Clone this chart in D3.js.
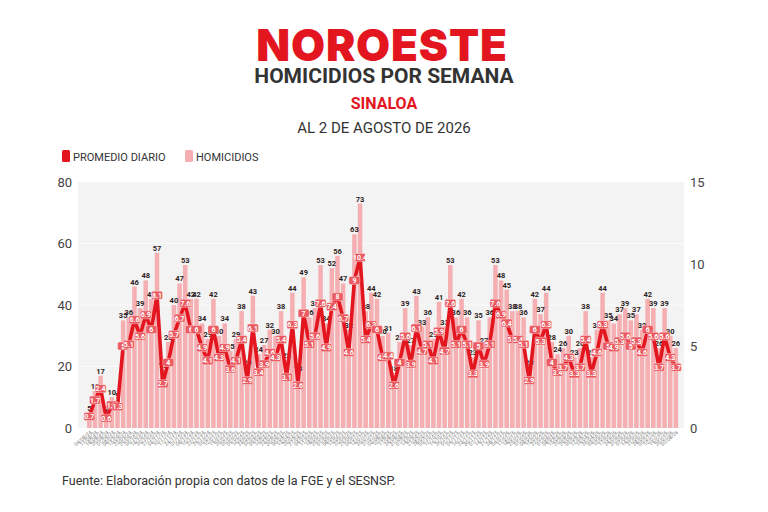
<!DOCTYPE html>
<html>
<head>
<meta charset="utf-8">
<script src="https://cdn.jsdelivr.net/npm/d3@7"></script>
<style>
  body { margin: 0; background: #fff; }
  svg { display: block; }
</style>
</head>
<body>
<svg id="chart" width="768" height="512"></svg>
<script>
// Weekly homicides in Sinaloa
const homicidios = [5, 12, 17, 4, 10, 9, 35, 36, 46, 39, 48, 42, 57, 19, 28, 40, 47, 53, 42, 42,
  34, 29, 42, 30, 34, 25, 29, 38, 20, 43, 24, 27, 32, 30, 38, 22, 44, 18, 49, 36,
  39, 53, 34, 52, 56, 47, 32, 63, 73, 38, 44, 42, 30, 31, 18, 28, 39, 27, 43, 33,
  36, 29, 41, 33, 53, 36, 42, 36, 23, 35, 27, 36, 53, 48, 45, 38, 38, 36, 20, 42,
  37, 44, 28, 24, 26, 30, 23, 26, 38, 23, 32, 44, 35, 34, 37, 39, 35, 37, 32, 42,
  39, 26, 39, 30, 26]

// Daily average per week (line labels)
const promedio = [0.7, 1.7, 2.4, 0.6, 1.4, 1.3, 5, 5.1, 6.6, 5.6, 6.9, 6, 8.1, 2.7, 4, 5.7, 6.7, 7.6, 6, 6,
  4.9, 4.1, 6, 4.3, 4.9, 3.6, 4.1, 5.4, 2.9, 6.1, 3.4, 3.9, 4.6, 4.3, 5.4, 3.1, 6.3, 2.6, 7, 5.1,
  5.6, 7.6, 4.9, 7.4, 8, 6.7, 4.6, 9, 10.4, 5.4, 6.3, 6, 4.3, 4.4, 2.6, 4, 5.6, 3.9, 6.1, 4.7,
  5.1, 4.1, 5.9, 4.7, 7.6, 5.1, 6, 5.1, 3.3, 5, 3.9, 5.1, 7.6, 6.9, 6.4, 5.4, 5.4, 5.1, 2.9, 6,
  5.3, 6.3, 4, 3.4, 3.7, 4.3, 3.3, 3.7, 5.4, 3.3, 4.6, 6.3, 5, 4.9, 5.3, 5.6, 5, 5.3, 4.6, 6,
  5.6, 3.7, 5.6, 4.3, 3.7]

// Week labels (too small to read in the original; weekly dates ending 2 Aug 2026)
const semanaInicio = new Date(2024, 7, 4)
const semanas = d3.range(homicidios.length).map(i =>
  d3.timeFormat('%d/%m/%y')(d3.timeDay.offset(semanaInicio, 7 * i)))

const ticksIzq = [0, 20, 40, 60, 80]
const ticksDer = [0, 5, 10, 15]

const rojo = '#e3151f'
const rosa = '#f5aeb1'
const svg = d3.select('#chart')

// Header
svg.append('text')
  .attr('x', 382).attr('y', 61)
  .attr('text-anchor', 'middle')
  .attr('font-family', 'Inter, sans-serif')
  .attr('font-weight', 900)
  .attr('font-size', 44)
  .attr('letter-spacing', 0.8)
  .attr('fill', rojo)
  .text('NOROESTE')

svg.append('text')
  .attr('x', 384).attr('y', 83)
  .attr('text-anchor', 'middle')
  .attr('font-family', 'Roboto, sans-serif')
  .attr('font-weight', 700)
  .attr('font-size', 21)
  .attr('fill', '#333')
  .text('HOMICIDIOS POR SEMANA')

svg.append('text')
  .attr('x', 384).attr('y', 109)
  .attr('text-anchor', 'middle')
  .attr('font-family', 'Roboto, sans-serif')
  .attr('font-weight', 700)
  .attr('font-size', 16)
  .attr('fill', rojo)
  .text('SINALOA')

svg.append('text')
  .attr('x', 384).attr('y', 133)
  .attr('text-anchor', 'middle')
  .attr('font-family', 'Roboto, sans-serif')
  .attr('font-size', 15)
  .attr('fill', '#333')
  .text('AL 2 DE AGOSTO DE 2026')

// Legend
const legend = [
  { label: 'PROMEDIO DIARIO', color: rojo, x: 62 },
  { label: 'HOMICIDIOS', color: rosa, x: 185 }
]
const lg = svg.append('g').selectAll('g').data(legend).join('g')
  .attr('transform', d => `translate(${d.x},150)`)
lg.append('rect').attr('width', 8).attr('height', 12).attr('rx', 1.5).attr('fill', d => d.color)
lg.append('text')
  .attr('x', 11).attr('y', 10.5)
  .attr('font-family', 'Roboto, sans-serif')
  .attr('font-size', 11)
  .attr('fill', '#333')
  .text(d => d.label)

// Scales
const plotTop = 182, plotBottom = 428
const x = d3.scaleBand().domain(semanas).range([86.5, 678.7]).paddingInner(0.2).paddingOuter(0.1)
const y = d3.scaleLinear().domain([0, 80]).range([plotBottom, plotTop])
const y2 = d3.scaleLinear().domain([0, 15]).range([plotBottom, plotTop])

// Plot background + grid
svg.append('rect')
  .attr('x', 78).attr('y', plotTop)
  .attr('width', 606).attr('height', plotBottom - plotTop)
  .attr('fill', '#f3f3f3')

svg.append('g').selectAll('line').data(ticksIzq.slice(1, -1)).join('line')
  .attr('x1', 78).attr('x2', 684)
  .attr('y1', d => y(d)).attr('y2', d => y(d))
  .attr('stroke', '#fbfbfb')

// Axes
const axL = svg.append('g')
  .attr('transform', 'translate(78,0)')
  .call(d3.axisLeft(y).tickValues(ticksIzq).tickSize(0).tickPadding(6))
const axR = svg.append('g')
  .attr('transform', 'translate(684,0)')
  .call(d3.axisRight(y2).tickValues(ticksDer).tickSize(0).tickPadding(6))
;[axL, axR].forEach(a => {
  a.select('.domain').remove()
  a.selectAll('text')
    .attr('font-family', 'Roboto, sans-serif')
    .attr('font-size', 13)
    .attr('fill', '#444')
})

const axB = svg.append('g')
  .attr('transform', `translate(0,${plotBottom})`)
  .call(d3.axisBottom(x).tickSize(0).tickPadding(3))
axB.select('.domain').remove()
axB.selectAll('text')
  .attr('font-family', 'Roboto, sans-serif')
  .attr('font-size', 5)
  .attr('fill', '#777')
  .attr('text-anchor', 'end')
  .attr('dx', '-0.2em').attr('dy', '0.5em')
  .attr('transform', 'rotate(-40)')

// Bars
svg.append('g').selectAll('rect').data(homicidios).join('rect')
  .attr('x', (d, i) => x(semanas[i]))
  .attr('y', d => y(d))
  .attr('width', x.bandwidth())
  .attr('height', d => plotBottom - y(d))
  .attr('fill', rosa)

// Bar labels
svg.append('g').selectAll('text').data(homicidios).join('text')
  .attr('x', (d, i) => x(semanas[i]) + x.bandwidth() / 2)
  .attr('y', d => y(d) - 2)
  .attr('text-anchor', 'middle')
  .attr('font-family', 'Roboto, sans-serif')
  .attr('font-weight', 700)
  .attr('font-size', 7.5)
  .attr('fill', '#2e2222')
  .text(d => d)

// Line
const line = d3.line()
  .x((d, i) => x(semanas[i]) + x.bandwidth() / 2)
  .y(d => y2(d))
svg.append('path')
  .datum(promedio)
  .attr('d', line)
  .attr('fill', 'none')
  .attr('stroke', rojo)
  .attr('stroke-width', 3.6)
  .attr('stroke-linejoin', 'round')

// Line labels
const pl = svg.append('g').selectAll('g').data(promedio).join('g')
  .attr('transform', (d, i) => `translate(${x(semanas[i]) + x.bandwidth() / 2},${y2(d)})`)
pl.append('rect')
  .attr('x', -5.5).attr('y', -4).attr('width', 11).attr('height', 8).attr('rx', 1.5)
  .attr('fill', '#ea5a60').attr('stroke', '#fff').attr('stroke-opacity', 0.6).attr('stroke-width', 0.6)
pl.append('text')
  .attr('y', 2.6)
  .attr('text-anchor', 'middle')
  .attr('font-family', 'Roboto, sans-serif')
  .attr('font-weight', 700)
  .attr('font-size', 7)
  .attr('fill', '#fff')
  .text(d => d)

// Source
svg.append('text')
  .attr('x', 62).attr('y', 485)
  .attr('font-family', 'Roboto, sans-serif')
  .attr('font-size', 12.5)
  .attr('fill', '#333')
  .text('Fuente: Elaboración propia con datos de la FGE y el SESNSP.')
</script>
</body>
</html>
